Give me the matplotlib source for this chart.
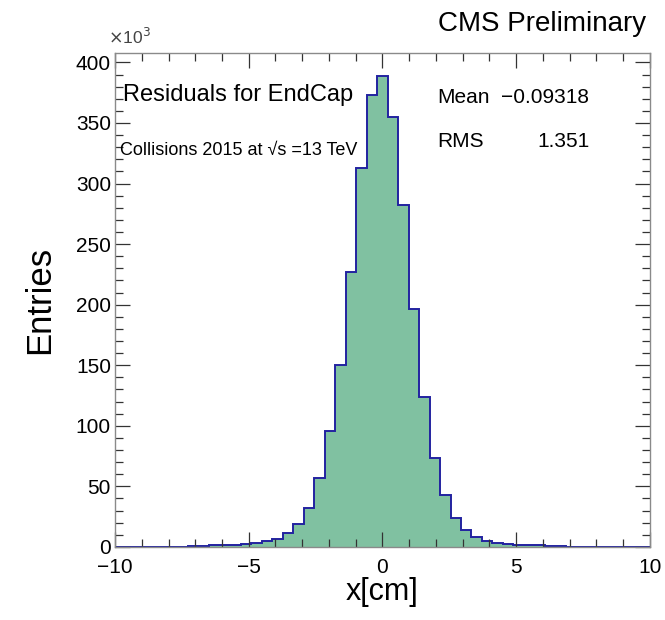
import matplotlib
matplotlib.use("Agg")
import matplotlib.pyplot as plt
from matplotlib.ticker import MultipleLocator
import numpy as np

plt.rcParams['font.family'] = ['Liberation Sans', 'DejaVu Sans']

# histogram: 51 bins from -10 to 10, entries in thousands
n_bins = 51
x_lo, x_hi = -10.0, 10.0
counts_k = [
    0.2, 0.2, 0.2, 0.2, 0.2, 0.2, 0.2, 0.3, 0.4,      # -10 .. -6.5
    1.5, 1.5, 1.8, 2.2, 3.0, 4.5, 6.5,                # -6.5 .. -3.7
    11.5, 18.7, 32.0, 56.5, 95.5, 150.5, 227.0,       # -3.7 .. -1.0
    312.5, 373.0, 389.0, 355.0, 282.5, 196.0,         # -1.0 .. 1.4
    124.0, 73.5, 42.5, 23.5, 13.5, 8.2, 5.0, 3.3,     # 1.4 .. 4.5
    2.0, 1.8, 1.5, 1.2,                               # 4.5 .. 6.1
    0.4, 0.3, 0.2, 0.2, 0.2, 0.2, 0.2, 0.2, 0.2, 0.2, # 6.1 .. 10
]

mean_txt = "\u22120.09318"
rms_txt = "1.351"

edges = np.linspace(x_lo, x_hi, n_bins + 1)
vals = np.array(counts_k)

fig = plt.figure(figsize=(6.65, 6.2), dpi=100)
ax = fig.add_axes([0.173, 0.118, 0.804, 0.797])

ax.stairs(vals, edges, fill=True, color='#80c1a1')
ax.stairs(vals, edges, color='#2222a0', lw=1.4)

ax.set_xlim(x_lo, x_hi)
ax.set_ylim(0, 408)

# ROOT-like frame and ticks
for s in ax.spines.values():
    s.set_color('#8a8a8a')
    s.set_linewidth(1.0)
ax.xaxis.set_major_locator(MultipleLocator(5))
ax.xaxis.set_minor_locator(MultipleLocator(1))
ax.yaxis.set_major_locator(MultipleLocator(50))
ax.yaxis.set_minor_locator(MultipleLocator(10))
ax.tick_params(which='both', direction='in', top=True, right=True,
               color='#333333', width=0.9)
ax.tick_params(which='major', length=11, labelsize=15, pad=3)
ax.tick_params(which='minor', length=5.5)
ax.tick_params(axis='x', pad=8)

ax.set_xlabel('x[cm]', fontsize=22, labelpad=0)
ax.set_ylabel('Entries', fontsize=25, labelpad=14)

fig.text(0.972, 0.940, 'CMS Preliminary', fontsize=20, ha='right', va='bottom')
fig.text(0.163, 0.924, r'$\times$10$^{3}$', fontsize=12.5, ha='left', va='bottom',
         color='#444444')

ax.text(0.015, 0.915, 'Residuals for EndCap', transform=ax.transAxes,
        fontsize=17, ha='left', va='center')
ax.text(0.010, 0.803, 'Collisions 2015 at \u221as =13 TeV', transform=ax.transAxes,
        fontsize=13, ha='left', va='center')

ax.text(0.603, 0.91, 'Mean', transform=ax.transAxes, fontsize=15,
        ha='left', va='center')
ax.text(0.887, 0.91, mean_txt, transform=ax.transAxes, fontsize=15,
        ha='right', va='center')
ax.text(0.603, 0.82, 'RMS', transform=ax.transAxes, fontsize=15,
        ha='left', va='center')
ax.text(0.887, 0.82, rms_txt, transform=ax.transAxes, fontsize=15,
        ha='right', va='center')

fig.savefig('out.png', dpi=100)
